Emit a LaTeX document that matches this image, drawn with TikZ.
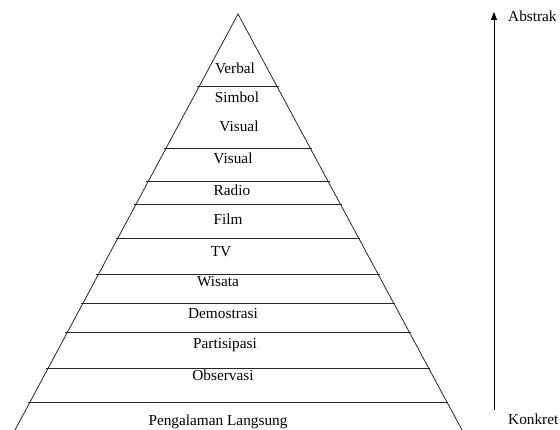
\documentclass[tikz,border=0pt]{standalone}
\usepackage{fontspec}
\setmainfont{Liberation Serif}
\usetikzlibrary{arrows.meta,calc}

\begin{document}
\begin{tikzpicture}[x=1pt,y=-1pt,
    level/.style={font=\fontsize{15.3}{18}\selectfont,anchor=mid,inner sep=0pt,yshift=-1.5pt},
    edge/.style={line width=0.8pt,black!85},
    a/.style={-{Triangle[length=8pt,width=6pt]},line width=0.8pt}]
    \useasboundingbox (0,0) rectangle (560,430);
    % pyramid
    \coordinate (apex) at (238,14);
    \coordinate (bl) at (15,430);
    \coordinate (br) at (462,430);
    \draw[edge] (bl) -- (apex) -- (br);
    \foreach \y in {86,148,181,204,238,274,303,332,368,402}
      \draw[edge] ({236-0.537*(\y-14)},\y) -- ({240+0.537*(\y-14)},\y);
    % levels
    \node[level] (verbal) at (235,70) {Verbal};
    \node[level] (simbol) at (237,99) {Simbol};
    \node[level] (visual1) at (239,128) {Visual};
    \node[level] (visual2) at (233,160) {Visual};
    \node[level] (radio) at (232,192) {Radio};
    \node[level] (film) at (228,221) {Film};
    \node[level] (tv) at (221,253) {TV};
    \node[level] (wisata) at (218,283) {Wisata};
    \node[level] (demo) at (223,315) {Demostrasi};
    \node[level] (partisipasi) at (225,345) {Partisipasi};
    \node[level] (observasi) at (223,377) {Observasi};
    \node[level] (langsung) at (218,422) {Pengalaman Langsung};
    % scale
    \coordinate (low) at (494,410);
    \coordinate (high) at (494,12);
    \draw[a] (low) -- (high);
    \node[level,anchor=mid west] (abstrak) at (508,18) {Abstrak};
    \node[level,anchor=mid west] (konkret) at (508,421) {Konkret};
  \end{tikzpicture}
\end{document}
